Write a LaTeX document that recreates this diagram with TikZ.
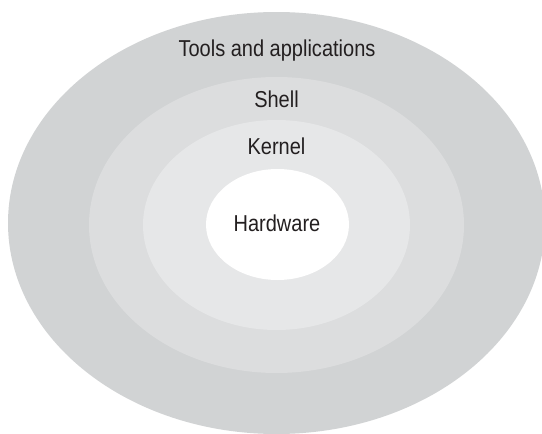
\documentclass[tikz,border=0pt]{standalone}
\usepackage{fontspec}
\setmainfont[FakeStretch=0.87]{Liberation Sans}
\usetikzlibrary{shapes.geometric}
\definecolor{ringA}{HTML}{D1D3D4}
\definecolor{ringB}{HTML}{DCDDDE}
\definecolor{ringC}{HTML}{E6E7E8}
\definecolor{txt}{HTML}{231F20}
\tikzset{
  ring/.style={ellipse, draw=none, inner sep=0pt, outer sep=0pt},
  lbl/.style={anchor=base, inner sep=0pt, text=txt, font=\fontsize{23}{26}\selectfont}
}
\begin{document}
\begin{tikzpicture}[x=1pt, y=-1pt]
\useasboundingbox (0,0) rectangle (542,434);
\fill[white] (0,0) rectangle (542,434);
\node[ring, fill=ringA, minimum width=537pt, minimum height=422pt] (outer) at (276.5,223) {};
\node[ring, fill=ringB, minimum width=375pt, minimum height=296pt] (shell) at (276.5,225) {};
\node[ring, fill=ringC, minimum width=267pt, minimum height=210pt] (kernel) at (276.5,225) {};
\node[ring, fill=white, minimum width=143pt, minimum height=111pt] (hw) at (277.5,224.5) {};
\node[lbl] (tools) at (277,56) {Tools and applications};
\node[lbl] (shelltxt) at (276.5,107) {Shell};
\node[lbl] (kerneltxt) at (276.5,154) {Kernel};
\node[lbl] (hwtxt) at (277,231.5) {Hardware};
\end{tikzpicture}
\end{document}
